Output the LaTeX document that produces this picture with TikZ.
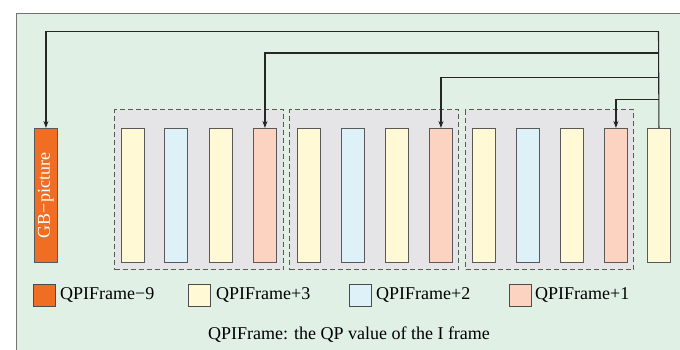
\documentclass[tikz,border=0pt]{standalone}
\usepackage{fontspec}
\setmainfont{Liberation Serif}
\usetikzlibrary{arrows.meta}
\definecolor{bggreen}{RGB}{224,240,229}
\definecolor{grpgray}{RGB}{229,229,232}
\definecolor{fy}{RGB}{255,249,213}
\definecolor{fb}{RGB}{222,241,249}
\definecolor{fp}{RGB}{252,210,193}
\definecolor{fo}{RGB}{240,110,35}
\tikzset{
  frm/.style={draw=black!65, line width=0.9pt, minimum width=23pt, minimum height=134pt, inner sep=0pt, anchor=north west},
  grp/.style={draw=black!65, dash pattern=on 5pt off 3pt, line width=1.1pt, fill=grpgray, inner sep=0pt, anchor=north west, minimum height=160pt},
  conn/.style={draw=black!85, line width=1.1pt},
  arr/.style={conn, -{Stealth[length=7pt,width=5pt]}},
  lsq/.style={draw=black!70, line width=0.9pt, minimum width=22pt, minimum height=22pt, inner sep=0pt, anchor=north west},
  ltx/.style={anchor=west, inner sep=0pt, font=\fontsize{18}{21}\selectfont},
}
\begin{document}
\begin{tikzpicture}[x=1pt,y=-1pt]
\useasboundingbox (0,0) rectangle (680,349);
\fill[white] (0,0) rectangle (680,349);
\fill[bggreen] (16,13) rectangle (690,360);
\draw[black!55, line width=1pt] (16,360) -- (16,13) -- (690,13);
% groups
\node[grp, minimum width=169pt] (g1) at (114,109) {};
\node[grp, minimum width=169pt] (g2) at (289,109) {};
\node[grp, minimum width=168pt] (g3) at (465,109) {};
% GB picture
\node[frm, fill=fo, minimum width=23pt] (gb) at (34,128) {};
\node[rotate=90, text=white, font=\fontsize{18}{21}\selectfont, inner sep=0pt] (gbt) at (gb.center) {GB−picture};
% frames
\node[frm, fill=fy] (f1) at (121,128) {};
\node[frm, fill=fb] (f2) at (164,128) {};
\node[frm, fill=fy] (f3) at (209,128) {};
\node[frm, fill=fp] (f4) at (253,128) {};
\node[frm, fill=fy] (f5) at (297,128) {};
\node[frm, fill=fb] (f6) at (341,128) {};
\node[frm, fill=fy] (f7) at (385,128) {};
\node[frm, fill=fp] (f8) at (429,128) {};
\node[frm, fill=fy] (f9) at (472,128) {};
\node[frm, fill=fb] (f10) at (516,128) {};
\node[frm, fill=fy] (f11) at (560,128) {};
\node[frm, fill=fp] (f12) at (604,128) {};
\node[frm, fill=fy] (f13) at (647,128) {};
% connectors
\coordinate (j1) at (658.5,31.5);
\coordinate (j2) at (658.5,53);
\coordinate (j3) at (658.5,77.5);
\coordinate (j4) at (658.5,99.5);
\draw[conn] (f13.north) -- (j1);
\draw[arr] (j1) -| (gb.north);
\draw[arr] (j2) -| (f4.north);
\draw[arr] (j3) -| (f8.north);
\draw[arr] (j4) -| (f12.north);
% legend
\node[lsq, fill=fo] (l1) at (33,284) {};
\node[ltx] (l1t) at (60,295) {QPIFrame−9};
\node[lsq, fill=fy] (l2) at (188,284) {};
\node[ltx] (l2t) at (216,295) {QPIFrame+3};
\node[lsq, fill=fb] (l3) at (349,284) {};
\node[ltx] (l3t) at (376,295) {QPIFrame+2};
\node[lsq, fill=fp] (l4) at (509,284) {};
\node[ltx] (l4t) at (535,295) {QPIFrame+1};
\node[font=\fontsize{18}{21}\selectfont, inner sep=0pt] (cap) at (349,335) {QPIFrame: the QP value of the I frame};
\end{tikzpicture}
\end{document}
